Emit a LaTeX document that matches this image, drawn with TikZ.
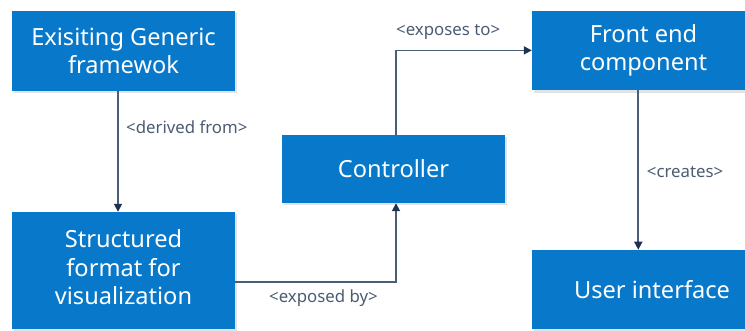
\documentclass[tikz,border=0pt]{standalone}
\usepackage{fontspec}
\setmainfont{Noto Sans}
\usetikzlibrary{arrows.meta,shadows}

\definecolor{boxblue}{HTML}{0879CA}
\definecolor{linecol}{HTML}{4A5E78}
\definecolor{tipcol}{HTML}{1F3350}
\definecolor{labelcol}{HTML}{4B5C72}

\tikzset{
  box/.style={fill=boxblue, draw=none, text=white, align=center,
    font=\fontsize{23.6pt}{28.5pt}\selectfont, inner sep=0pt,
    drop shadow={opacity=0.22, shadow xshift=1.5pt, shadow yshift=-2.5pt}},
  conn/.style={draw=linecol, line width=1.7pt,
    -{Triangle[length=8pt,width=8pt,color=tipcol,fill=tipcol]}},
  tag/.style={text=labelcol, font=\fontsize{16.8pt}{19pt}\selectfont, inner sep=0pt}
}

\begin{document}
\begin{tikzpicture}[x=1pt,y=-1pt]
  \useasboundingbox (0,0) rectangle (745,331);
  \clip (0,0) rectangle (745,331);

  % boxes
  \node[box, minimum width=223pt, minimum height=80pt] (gen) at (123.5,51)
    {Exisiting Generic\\framewok};
  \node[box, minimum width=223pt, minimum height=117.5pt] (fmt) at (123.5,270.75)
    {\raisebox{4pt}{\begin{tabular}{@{}c@{}}Structured\\format for\\visualization\end{tabular}}};
  \node[box, minimum width=223pt, minimum height=68pt] (ctrl) at (393.5,169)
    {Controller};
  \node[box, minimum width=223pt, minimum height=79.5pt] (fe) at (643.5,50.4)
    {Front end\\component};
  \node[box, minimum width=240pt, minimum height=79.5pt] (ui) at (652,289.7)
    {User interface};

  % connectors
  \draw[conn] ([xshift=-5.5pt]gen.south) -- ([xshift=-5.5pt]fmt.north);
  \draw[conn] ([yshift=-11pt]fmt.east) -| ([xshift=2.5pt]ctrl.south);
  \draw[conn] ([xshift=2.5pt]ctrl.north) |- (fe.west);
  \draw[conn] ([xshift=-5.2pt]fe.south) -- ([xshift=-5.2pt]fe.south |- ui.north);

  % connector labels
  \node[tag, anchor=west] (l1) at (126,126.7) {<derived from>};
  \node[tag, anchor=west] (l2) at (269,298.3) {<exposed by>};
  \node[tag, anchor=west] (l3) at (396,31.7) {<exposes to>};
  \node[tag, anchor=west] (l4) at (646.7,171.7) {<creates>};
\end{tikzpicture}
\end{document}
